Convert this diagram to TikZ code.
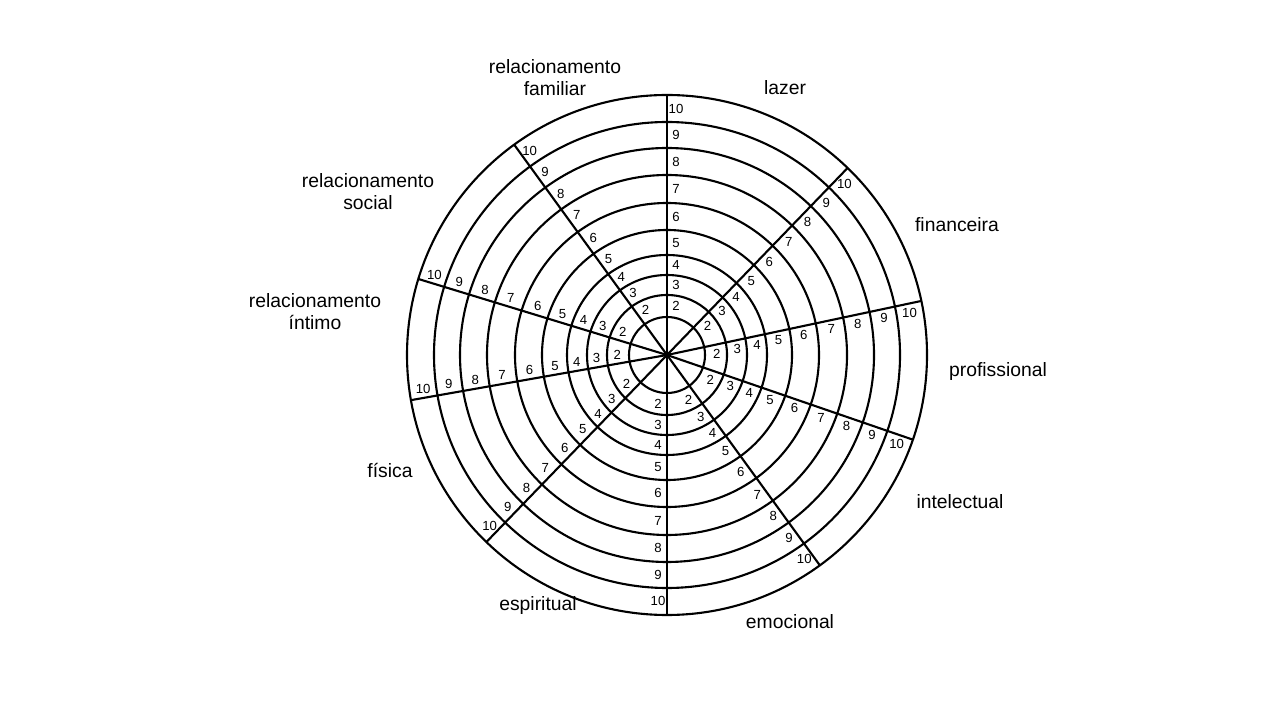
\documentclass[tikz,border=0pt]{standalone}
\usepackage{fontspec}
\setmainfont{Liberation Sans}
\usetikzlibrary{calc}

\begin{document}
\begin{tikzpicture}[x=0.02cm, y=0.02cm,
    ring/.style={draw, line width=1.2pt},
    spoke/.style={line width=1.2pt},
    num/.style={font=\fontsize{7.5}{8}\selectfont, inner sep=0.5pt},
    area/.style={font=\fontsize{11}{12.5}\selectfont, align=center, inner sep=1pt}
]
    \useasboundingbox (0,0) rectangle (1280,720);
    \coordinate (c) at (667,365);

    % rings
    \foreach \r in {38,60,80,100,125,152,180,207,233,260}
        \draw[ring] (c) circle[radius=\r];

    % spokes with scale numbers
    \foreach \a [count=\i] in {90,46,12,-19,-54,-90,-134,190,163,126} {
        \coordinate (s\i) at ($(c)+(\a:260)$);
        \draw[spoke] (c) -- (s\i);
        \foreach \n/\m in {2/49,3/70,4/90,5/112,6/138,7/166,8/193,9/220,10/246}
            \node[num] at ($(c)+(\a:\m)+(\a-90:9)$) {\n};
    }

    % area labels
    \node[area] (familiar) at (555,642) {relacionamento\\familiar};
    \node[area] (lazer) at (785,632) {lazer};
    \node[area] (social) at (368,528) {relacionamento\\social};
    \node[area] (financeira) at (957,495) {financeira};
    \node[area] (intimo) at (315,408) {relacionamento\\íntimo};
    \node[area] (profissional) at (998,348) {profissional};
    \node[area] (fisica) at (390,250) {física};
    \node[area] (intelectual) at (960,218) {intelectual};
    \node[area] (espiritual) at (538,114) {espiritual};
    \node[area] (emocional) at (790,98) {emocional};
\end{tikzpicture}
\end{document}
